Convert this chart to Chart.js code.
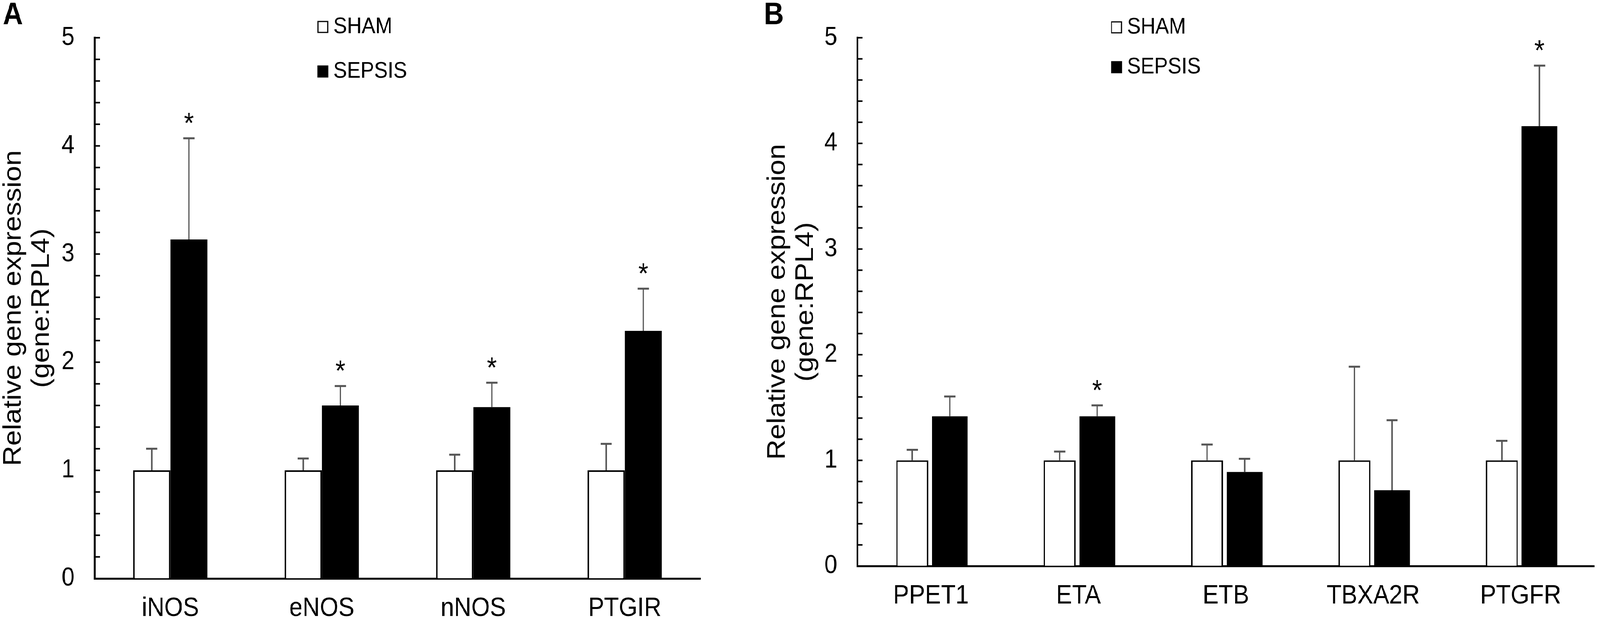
<!DOCTYPE html>
<html>
<head>
<meta charset="utf-8">
<script src="https://cdn.jsdelivr.net/npm/chart.js@4.4.0/dist/chart.umd.min.js"></script>
<style>
  html, body { margin: 0; padding: 0; background: #fff; overflow: hidden; }
  #stage { position: absolute; left: 0; top: 0; width: 4550px; height: 1600px; transform-origin: 0 0; background: #fff; }
  .panel { position: absolute; top: 0; height: 1600px; }
</style>
</head>
<body>
<div id="stage">
  <div class="panel" style="left:0;width:2100px"><canvas id="chartA" width="2100" height="1600"></canvas></div>
  <div class="panel" style="left:2169px;width:2381px"><canvas id="chartB" width="2381" height="1600"></canvas></div>
</div>
<script>
// panel A
const genesA = ['iNOS', 'eNOS', 'nNOS', 'PTGIR'];
const shamA = [1, 1, 1, 1];
const shamErrA = [0.20, 0.11, 0.145, 0.245];
const sepsisA = [3.135, 1.60, 1.585, 2.29];
const sepsisErrA = [0.935, 0.18, 0.225, 0.39];
const starA = [true, true, true, true];

// panel B
const genesB = ['PPET1', 'ETA', 'ETB', 'TBXA2R', 'PTGFR'];
const shamB = [1, 1, 1, 1, 1];
const shamErrB = [0.10, 0.083, 0.15, 0.886, 0.185];
const sepsisB = [1.417, 1.417, 0.89, 0.717, 4.163];
const sepsisErrB = [0.188, 0.103, 0.125, 0.663, 0.573];
const starB = [false, true, false, false, true];

const yMin = 0, yMax = 5, yStep = 1, yMinorStep = 0.2;
const FONT = "'Liberation Sans', Arial, sans-serif";

// fit the 4550x1600 drawing to whatever the viewport really is
const sx = window.innerWidth / 4550
const sy = window.innerHeight / 1600
document.getElementById('stage').style.transform = 'scale(' + sx + ',' + sy + ')'
const ratio = (window.devicePixelRatio || 1) * Math.max(sx, sy)

// error bars, stars, inward minor ticks, legend and panel letter
const decor = {
  id: 'decor',
  afterDraw(chart, args, opts) {
    const ctx = chart.ctx
    const y = chart.scales.y
    const area = chart.chartArea
    ctx.save()

    chart.data.datasets.forEach((ds, di) => {
      const meta = chart.getDatasetMeta(di)
      meta.data.forEach((bar, i) => {
        const top = y.getPixelForValue(ds.data[i] + ds.errors[i])
        ctx.strokeStyle = '#555'
        ctx.lineWidth = 4
        ctx.beginPath(); ctx.moveTo(bar.x, bar.y); ctx.lineTo(bar.x, top); ctx.stroke()
        ctx.lineWidth = 5
        ctx.beginPath(); ctx.moveTo(bar.x - 16, top); ctx.lineTo(bar.x + 16, top); ctx.stroke()
        if (ds.stars && ds.stars[i]) {
          ctx.fillStyle = '#000'
          ctx.font = '74px ' + FONT
          ctx.textAlign = 'center'
          ctx.textBaseline = 'alphabetic'
          ctx.fillText('*', bar.x, top - 57 + 0.58 * 74)
        }
      })
    })

    // inward ticks on the y axis
    ctx.strokeStyle = '#000'
    ctx.lineWidth = 4
    for (let v = yMinorStep; v <= yMax + 1e-9; v += yMinorStep) {
      const py = y.getPixelForValue(v)
      ctx.beginPath(); ctx.moveTo(area.left, py); ctx.lineTo(area.left + 15, py); ctx.stroke()
    }

    // legend
    ctx.font = '58px ' + FONT
    ctx.textAlign = 'left'
    ctx.textBaseline = 'middle'
    chart.data.datasets.forEach((ds, di) => {
      const cx = area.left + opts.legendX
      const cy = opts.legendY[di]
      ctx.fillStyle = ds.backgroundColor
      ctx.fillRect(cx, cy - 14, 28, 28)
      ctx.lineWidth = 3
      ctx.strokeStyle = '#000'
      ctx.strokeRect(cx, cy - 14, 28, 28)
      ctx.fillStyle = '#000'
      ctx.fillText(ds.label, cx + 44, cy)
    })

    // panel letter
    ctx.font = 'bold 79px ' + FONT
    ctx.textBaseline = 'alphabetic'
    ctx.fillText(opts.letter, opts.letterX, 62)
    ctx.restore()
  }
}

function makeChart(id, genes, sham, shamErr, sepsis, sepsisErr, stars, cfg) {
  return new Chart(document.getElementById(id), {
    type: 'bar',
    data: {
      labels: genes,
      datasets: [
        {
          label: 'SHAM',
          data: sham,
          errors: shamErr,
          barPercentage: cfg.barPct[0],
          backgroundColor: '#fff',
          borderColor: '#000',
          borderWidth: 4,
          borderSkipped: 'bottom'
        },
        {
          label: 'SEPSIS',
          data: sepsis,
          errors: sepsisErr,
          stars: stars,
          barPercentage: cfg.barPct[1],
          backgroundColor: '#000',
          borderWidth: 0
        }
      ]
    },
    options: {
      responsive: false,
      animation: false,
      devicePixelRatio: ratio,
      categoryPercentage: cfg.catPct,
      layout: { padding: { top: cfg.top, right: cfg.right, bottom: 0, left: 0 } },
      plugins: {
        legend: { display: false },
        tooltip: { enabled: false },
        decor: { legendX: cfg.legendX, legendY: cfg.legendY, letter: cfg.letter, letterX: cfg.letterX }
      },
      scales: {
        x: {
          grid: { display: true, drawOnChartArea: false, drawTicks: false },
          border: { display: true, color: '#000', width: 5 },
          ticks: { color: '#000', padding: 36, font: { family: FONT, size: 68 } },
          afterFit(scale) { scale.height = cfg.xHeight }
        },
        y: {
          min: yMin,
          max: yMax,
          grid: { display: true, drawOnChartArea: false, drawTicks: false },
          border: { display: true, color: '#000', width: 5 },
          ticks: { stepSize: yStep, color: '#000', padding: 57, font: { family: FONT, size: 66 } },
          title: {
            display: true,
            text: ['Relative gene expression', '(gene:RPL4)'],
            color: '#000',
            padding: { top: cfg.titlePad, bottom: 0 },
            font: { family: FONT, size: 72, lineHeight: 1.1 }
          },
          afterFit(scale) { scale.width = 269 }
        }
      }
    },
    plugins: [decor]
  })
}

makeChart('chartA', genesA, shamA, shamErrA, sepsisA, sepsisErrA, starA, {
  catPct: 0.49, barPct: [1.0, 1.0], top: 36, right: 108, xHeight: 119,
  legendX: 635, legendY: [69, 183], letter: 'A', letterX: 8, titlePad: 0
})
makeChart('chartB', genesB, shamB, shamErrB, sepsisB, sepsisErrB, starB, {
  catPct: 0.51, barPct: [0.85, 0.95], top: 69, right: 16, xHeight: 151,
  legendX: 723, legendY: [70, 172], letter: 'B', letterX: 3, titlePad: 4
})
</script>
</body>
</html>
